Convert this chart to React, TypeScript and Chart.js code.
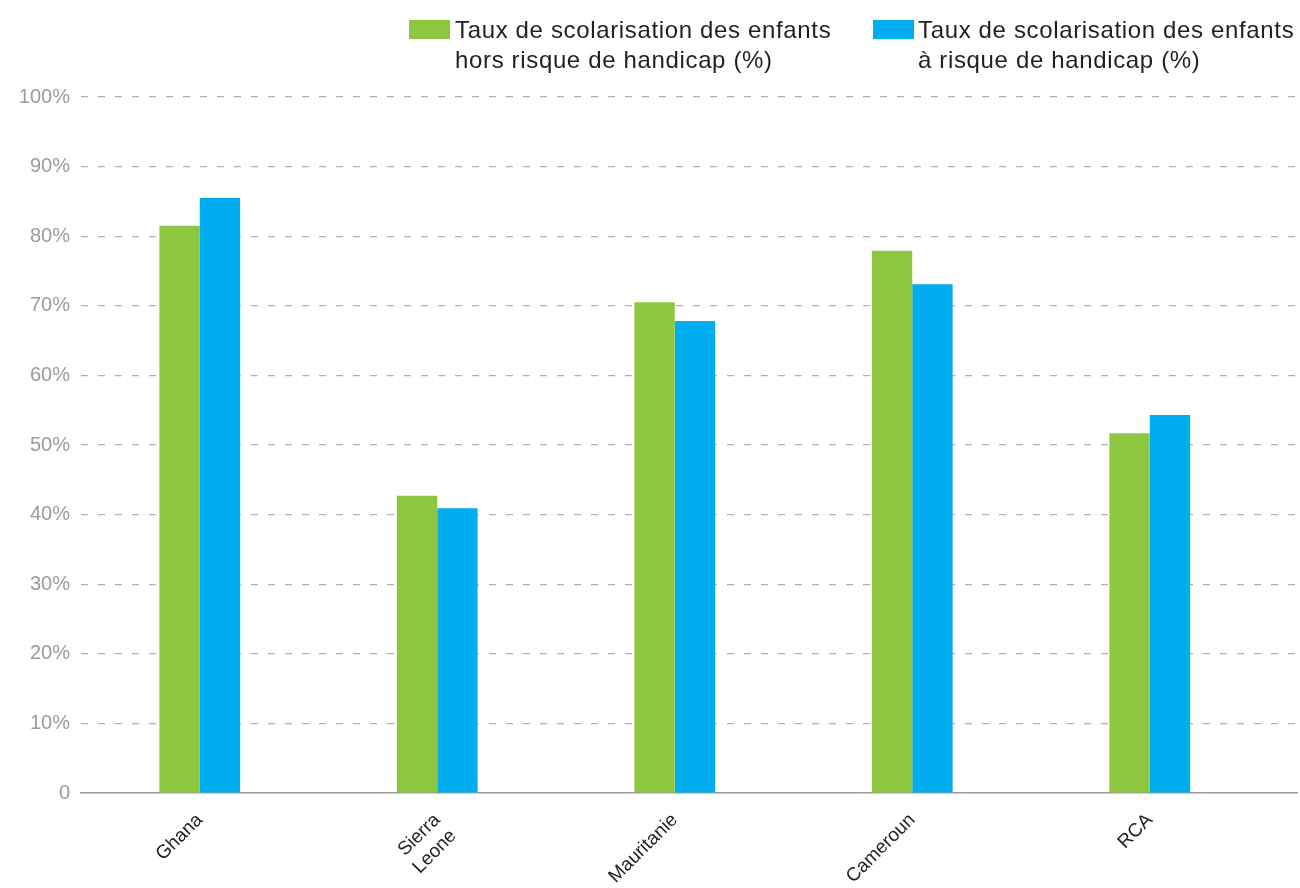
import React, { useEffect, useRef } from "react";
import { Chart, registerables } from "chart.js";

Chart.register(...registerables);

const categories: (string | string[])[] = ["Ghana", ["Sierra", "Leone"], "Mauritanie", "Cameroun", "RCA"];
const seriesLabels = [
  ["Taux de scolarisation des enfants", "hors risque de handicap (%)"],
  ["Taux de scolarisation des enfants", "à risque de handicap (%)"],
];
const horsRisque = [81.5, 42.7, 70.5, 77.9, 51.7];
const aRisque = [85.5, 40.9, 67.8, 73.1, 54.3];
const colors = ["#8dc63f", "#00aeef"];
const yTickValues = [0, 10, 20, 30, 40, 50, 60, 70, 80, 90, 100];

const FONT = "'Liberation Sans', Arial, sans-serif";

export default function App() {
  const ref = useRef<HTMLCanvasElement | null>(null);
  useEffect(() => {
    if (!ref.current) return;
    const chart = new Chart(ref.current, {
      type: "bar",
      data: {
        datasets: [horsRisque, aRisque].map((vals, k) => ({
          label: seriesLabels[k].join(" "),
          data: vals.map((v, i) => ({ x: i, y: v })),
          backgroundColor: colors[k],
          borderWidth: 0,
          barPercentage: 1,
          categoryPercentage: 0.34,
        })),
      },
      options: {
        animation: false,
        responsive: true,
        maintainAspectRatio: false,
        layout: { padding: { top: 97, right: 3, left: 0, bottom: 0 } },
        plugins: { legend: { display: false }, tooltip: { enabled: false } },
        scales: {
          x: {
            type: "linear",
            min: -0.5,
            max: 4.62,
            offset: false,
            grid: { display: false, offset: false },
            border: { display: true, color: "#9a9a9a", width: 1.5 },
            afterBuildTicks: (scale: any) => {
              scale.ticks = categories.map((_, i) => ({ value: i }));
            },
            afterFit: (scale: any) => {
              scale.height = 95;
            },
            ticks: {
              autoSkip: false,
              maxRotation: 45,
              minRotation: 45,
              padding: 8,
              color: "#231f20",
              font: { family: FONT, size: 19 },
              callback: (v: any) => categories[v as number] ?? "",
            },
          },
          y: {
            min: 0,
            max: 100,
            afterBuildTicks: (scale: any) => {
              scale.ticks = yTickValues.map((v) => ({ value: v }));
            },
            afterFit: (scale: any) => {
              scale.width = 81;
            },
            grid: {
              drawTicks: false,
              color: (ctx: any) => (ctx.tick && ctx.tick.value === 0 ? "rgba(0,0,0,0)" : "#b0b0b0"),
              lineWidth: 1.2,
            },
            border: { display: false, dash: [7, 10] },
            ticks: {
              padding: 11,
              color: "#9b9b9b",
              font: { family: FONT, size: 20 },
              callback: (v: any) => (v === 0 ? "0" : v + "%"),
            },
          },
        },
      },
    });
    return () => chart.destroy();
  }, []);

  const legendPos = [
    { sw: 409, tx: 455 },
    { sw: 873, tx: 918 },
  ];

  return (
    <div style={{ position: "fixed", left: 0, top: 0, width: 1300, height: 888, overflow: "hidden", background: "#fff" }}>
      <canvas ref={ref} style={{ position: "absolute", left: 0, top: 0, width: 1300, height: 888 }} />
      {legendPos.map((p, k) => (
        <React.Fragment key={k}>
          <div style={{ position: "absolute", left: p.sw, top: 20, width: 41, height: 19, background: colors[k] }} />
          <div
            style={{
              position: "absolute",
              left: p.tx,
              top: 15,
              fontFamily: FONT,
              fontSize: 24,
              lineHeight: "30px",
              letterSpacing: "0.65px",
              color: "#231f20",
              whiteSpace: "nowrap",
            }}
          >
            {seriesLabels[k].map((l, j) => (
              <div key={j}>{l}</div>
            ))}
          </div>
        </React.Fragment>
      ))}
    </div>
  );
}
